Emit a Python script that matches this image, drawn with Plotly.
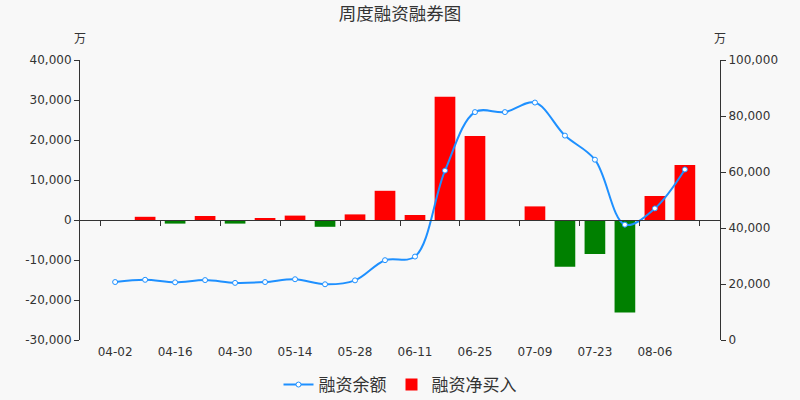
import plotly.graph_objects as go

dates = ["04-02", "04-09", "04-16", "04-23", "04-30", "05-07", "05-14", "05-21", "05-28", "06-04",
         "06-11", "06-18", "06-25", "07-02", "07-09", "07-16", "07-23", "07-30", "08-06", "08-13"]
# 融资净买入 (万)
net_buy = [None, 800, -900, 1000, -900, 500, 1100, -1700, 1400, 7300,
           1250, 30800, 21000, 0, 3400, -11700, -8500, -23100, 6000, 13750]
# 融资余额 (万)
balance = [20700, 21500, 20600, 21400, 20400, 20700, 21700, 19900, 21300, 28500,
           29800, 60500, 81400, 81400, 84800, 73000, 64400, 41200, 47000, 60900]

left_ticks = [-30000, -20000, -10000, 0, 10000, 20000, 30000, 40000]
left_text = ["-30,000", "-20,000", "-10,000", "0", "10,000", "20,000", "30,000", "40,000"]
right_ticks = [0, 20000, 40000, 60000, 80000, 100000]
right_text = ["0", "20,000", "40,000", "60,000", "80,000", "100,000"]

bar_colors = ["#008000" if (v is not None and v < 0) else "#FF0000" for v in net_buy]

fig = go.Figure()
fig.add_trace(go.Bar(
    x=dates, y=net_buy, name="融资净买入", xaxis="x", yaxis="y",
    marker=dict(color=bar_colors, line=dict(width=0)), width=0.69,
))
fig.add_trace(go.Scatter(
    x=dates, y=balance, name="融资余额", xaxis="x", yaxis="y2",
    mode="lines+markers", line=dict(color="#1E90FF", width=2, shape="spline", smoothing=1),
    marker=dict(symbol="circle", size=5, color="white", line=dict(color="#1E90FF", width=1)),
))
# invisible helper trace so the zero-line category axis is drawn
fig.add_trace(go.Scatter(
    x=dates, y=[None] * len(dates), xaxis="x2", yaxis="y", mode="lines",
    showlegend=False, hoverinfo="skip",
))

font_main = "DejaVu Sans, Noto Sans CJK SC, sans-serif"
zero_pos = (0 - left_ticks[0]) / (left_ticks[-1] - left_ticks[0])

fig.update_layout(
    width=800, height=400,
    paper_bgcolor="#F8F8F8", plot_bgcolor="#F8F8F8",
    margin=dict(l=80, r=80, t=60, b=60, autoexpand=False),
    font=dict(family=font_main, size=12, color="#333333"),
    title=dict(text="周度融资融券图", x=0.5, xanchor="center", y=0.965, yanchor="middle",
               font=dict(family="Noto Sans CJK SC, sans-serif", size=17.5, color="#333333")),
    showlegend=True,
    legend=dict(orientation="h", x=0.5, xanchor="center", yref="container", y=0.0375, yanchor="middle",
                font=dict(family="Noto Sans CJK SC, sans-serif", size=17, color="#333333"),
                bgcolor="rgba(0,0,0,0)", traceorder="reversed"),
    xaxis=dict(type="category", categoryorder="array", categoryarray=dates,
               showline=False, ticks="", showgrid=False, zeroline=False,
               tickmode="linear", tick0=0, dtick=2, ticklabelstandoff=3,
               tickfont=dict(size=12, color="#333333")),
    xaxis2=dict(type="category", categoryorder="array", categoryarray=dates,
                overlaying="x", matches="x", anchor="free", position=zero_pos,
                showline=True, linecolor="#333333", linewidth=1,
                ticks="outside", ticklen=5, tickcolor="#333333",
                tickson="boundaries", tickmode="linear", tick0=0, dtick=2,
                showticklabels=False, showgrid=False, zeroline=False),
    yaxis=dict(range=[left_ticks[0], left_ticks[-1]], tickmode="array",
               tickvals=left_ticks, ticktext=left_text,
               showline=True, linecolor="#333333", linewidth=1,
               ticks="outside", ticklen=5, tickcolor="#333333",
               showgrid=False, zeroline=False, tickfont=dict(size=12, color="#333333")),
    yaxis2=dict(range=[right_ticks[0], right_ticks[-1]], tickmode="array",
                tickvals=right_ticks, ticktext=right_text, overlaying="y", side="right",
                anchor="x",
                showline=True, linecolor="#333333", linewidth=1,
                ticks="outside", ticklen=5, tickcolor="#333333",
                showgrid=False, zeroline=False, tickfont=dict(size=12, color="#333333")),
    annotations=[
        dict(text="万", xref="paper", yref="paper", x=0, y=1.08, xanchor="center", yanchor="middle",
             showarrow=False, font=dict(family="Noto Sans CJK SC, sans-serif", size=12, color="#333333")),
        dict(text="万", xref="paper", yref="paper", x=1, y=1.08, xanchor="center", yanchor="middle",
             showarrow=False, font=dict(family="Noto Sans CJK SC, sans-serif", size=12, color="#333333")),
    ],
)

fig.write_html("out.html", config={"displayModeBar": False},
               post_script="document.body.style.margin='0';")
